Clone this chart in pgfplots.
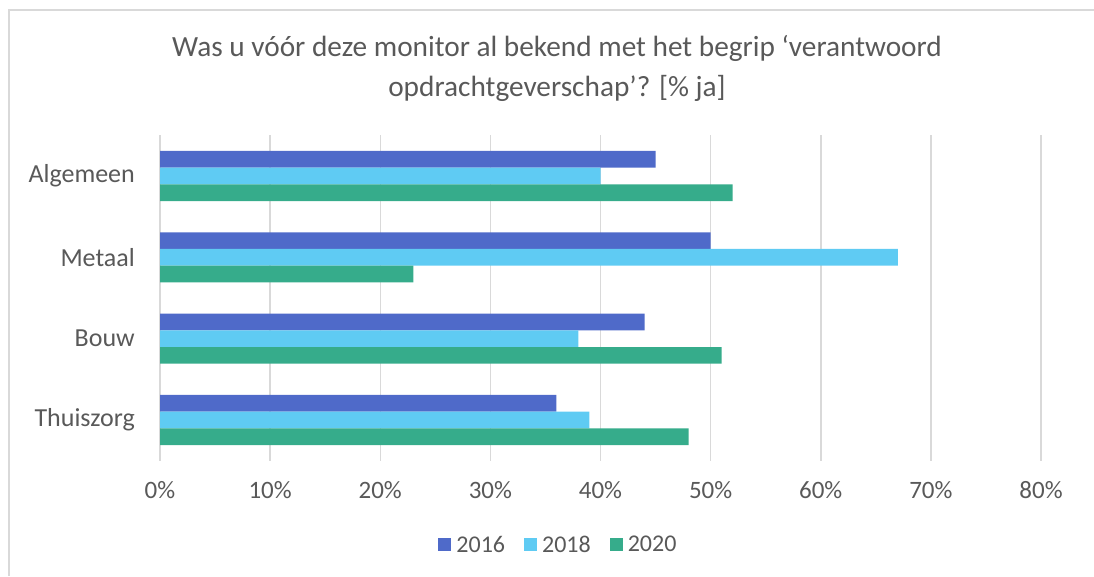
\documentclass[border=0pt]{standalone}
\usepackage{pgfplots}
\pgfplotsset{compat=1.18}
\usepackage{fontspec}
\setmainfont{Carlito}
\definecolor{c16}{HTML}{4F6AC9}
\definecolor{c18}{HTML}{5FCBF3}
\definecolor{c20}{HTML}{36AC8B}
\definecolor{txt}{HTML}{595959}
\definecolor{grd}{HTML}{D9D9D9}
\begin{document}
\begin{tikzpicture}
\path[use as bounding box] (0pt,0pt) rectangle (1094pt,576pt);
\draw[grd, line width=1.3pt] (9pt,0pt) -- (9pt,566pt) -- (1094pt,566pt);
\node[txt, font=\fontsize{29.3}{40}\selectfont, align=center] at (557pt,508pt)
  {Was u vóór deze monitor al bekend met het begrip ‘verantwoord\\opdrachtgeverschap’? [\% ja]};
\begin{axis}[
  at={(160pt,115.35pt)}, anchor=south west,
  scale only axis, width=881pt, height=325.3pt,
  xbar, bar width=16.7pt,
  xmin=0, xmax=80, ymin=-0.5, ymax=3.5,
  xtick={0,10,...,80},
  xticklabel={\pgfmathprintnumber[assume math mode=true]{\tick}\%},
  ytick={0,1,2,3},
  yticklabels={Thuiszorg,Bouw,Metaal,Algemeen},
  major tick length=0pt,
  axis line style={draw=none},
  xmajorgrids, grid style={grd, line width=1.5pt},
  x tick label style={txt, font=\fontsize{25}{30}\selectfont, inner ysep=0pt, yshift=-21pt},
  y tick label style={txt, font=\fontsize{26}{30}\selectfont, inner xsep=0pt, xshift=-25pt},
  legend columns=3,
  legend style={draw=none, fill=none, at={(0.454,-0.259)}, anchor=center,
    font=\fontsize{24}{28}\selectfont, text=txt,
    /tikz/every even column/.append style={column sep=14pt},
    nodes={inner xsep=5pt}},
  legend image code/.code={\fill[#1] (0pt,-6.5pt) rectangle (13pt,6.5pt);},
]
\addplot[fill=c16, draw=none, bar shift=16.7pt] coordinates {(36,0) (44,1) (50,2) (45,3)};
\addplot[fill=c18, draw=none, bar shift=0pt] coordinates {(39,0) (38,1) (67,2) (40,3)};
\addplot[fill=c20, draw=none, bar shift=-16.7pt] coordinates {(48,0) (51,1) (23,2) (52,3)};
\legend{2016,2018,2020}
\end{axis}
\end{tikzpicture}
\end{document}
